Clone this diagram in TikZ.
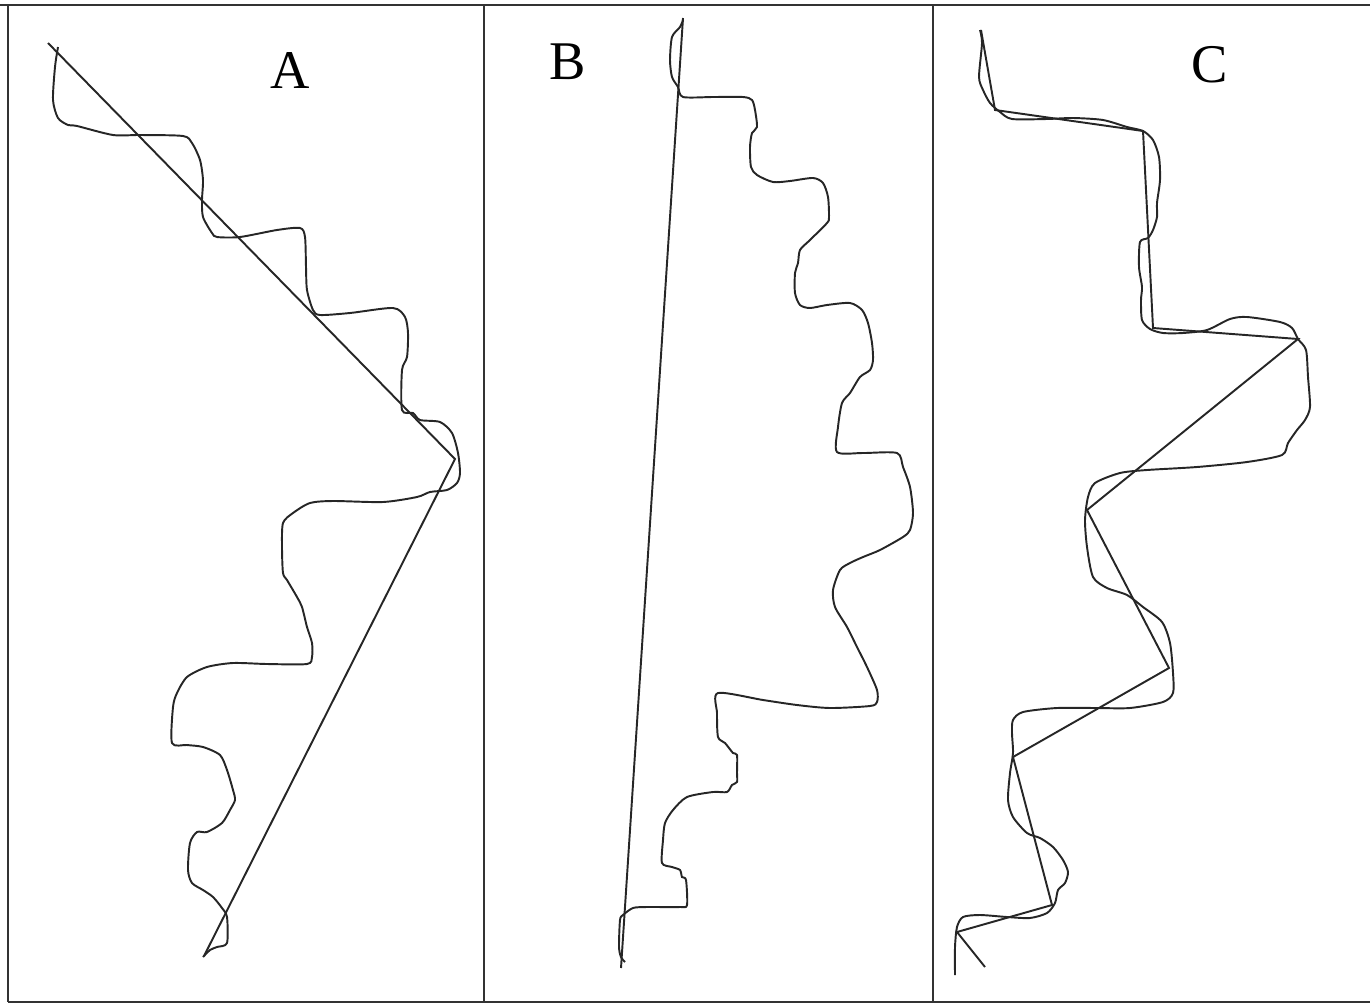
\documentclass[tikz,border=0pt]{standalone}
\usepackage{fontspec}
\setmainfont{Liberation Serif}
\begin{document}
\begin{tikzpicture}[x=0.01cm,y=-0.01cm,line width=0.55pt,
  trace/.style={draw=black!85,smooth,tension=0.45},
  fit/.style={draw=black!85},
  lab/.style={font=\fontsize{15.5}{18}\selectfont}]
\useasboundingbox (0,0) rectangle (1370,1006);
% frame
\draw[black!80] (0,5) -- (1370,5);
\draw[black!80] (8,1002) -- (1370,1002);
\foreach \x in {8,484,933}
  \draw[black!80] (\x,5) -- (\x,1002);

\node[lab] (labA) at (290,71) {A};
\node[lab] (labB) at (568,62) {B};
\node[lab] (labC) at (1210,65) {C};

% panel A
\draw[trace] plot coordinates {(58,47) (55,67) (53,100) (58,118) (68,125) (77,126)
 (113,135) (140,135) (183,136) (192,143) (200,160) (203,180) (202,200) (203,217)
 (212,233) (217,237) (240,237) (277,230) (300,228) (305,237) (306,267) (307,290)
 (313,310) (320,315) (350,313) (393,308) (405,317) (408,333) (407,357) (402,370)
 (402,410) (413,413) (420,420) (440,422) (452,433) (458,453) (460,473) (457,483)
 (447,490) (430,492) (417,497) (383,502) (333,501) (310,503) (293,513) (283,523)
 (282,547) (283,573) (287,580) (297,597) (302,607) (307,627) (312,643) (312,657)
 (307,664) (267,664) (233,663) (207,667) (187,677) (177,693) (173,707) (172,743)
 (187,745) (203,747) (220,755) (227,770) (233,790) (235,800) (230,810) (222,823)
 (207,832) (197,832) (190,843) (188,870) (192,883) (203,890) (213,897) (222,908)
 (227,917) (227,943) (217,947) (210,950) (203,957)};
\draw[fit] (48,43) -- (455,459) -- (204,956);

% panel B
\draw[trace] plot coordinates {(683,20) (680,27) (672,37) (670,60) (672,77) (678,87)
 (683,97) (713,97) (743,97) (752,100) (755,110) (757,127) (752,133) (750,147)
 (751,167) (757,175) (773,182) (790,181) (813,178) (823,183) (828,197) (829,217)
 (827,223) (810,240) (800,250) (798,263) (795,273) (795,293) (800,305) (810,308)
 (827,305) (850,303) (862,310) (868,323) (872,343) (873,360) (870,370) (860,377)
 (850,393) (842,403) (838,427) (837,452) (863,453) (897,453) (903,467) (910,487)
 (913,513) (910,530) (903,537) (880,550) (863,557) (850,563) (840,570) (833,590)
 (835,607) (847,627) (857,647) (867,667) (877,690) (877,702) (870,706) (830,708)
 (797,705) (763,700) (718,693) (717,713) (718,737) (725,743) (733,753) (737,755)
 (737,773) (737,782) (732,785) (727,792) (713,792) (687,797) (673,810) (665,823)
 (663,840) (662,863) (672,867) (680,870) (682,877) (686,880) (687,905) (680,907)
 (647,907) (633,908) (623,915) (620,920) (619,947) (621,957) (625,962)};
\draw[fit] (683,18) -- (621,968);

% panel C
\draw[trace] plot coordinates {(980,30) (982,43) (979,77) (983,90) (990,103) (1000,112)
 (1012,119) (1047,119) (1073,118) (1103,120) (1127,127) (1143,131) (1153,140)
 (1159,157) (1160,180) (1157,203) (1157,217) (1153,230) (1148,238) (1140,242)
 (1139,267) (1142,287) (1141,300) (1142,320) (1150,329) (1163,333) (1183,333)
 (1207,330) (1230,319) (1247,317) (1280,322) (1292,328) (1298,339) (1306,350)
 (1308,377) (1310,407) (1305,420) (1297,430) (1288,443) (1282,455) (1247,462)
 (1197,467) (1147,470) (1120,473) (1095,483) (1088,497) (1085,520) (1087,547)
 (1093,577) (1107,588) (1127,595) (1143,607) (1162,622) (1170,643) (1173,673)
 (1173,693) (1163,702) (1130,708) (1097,708) (1057,708) (1023,712) (1013,720)
 (1012,733) (1013,753) (1010,773) (1008,800) (1013,817) (1027,833) (1040,838)
 (1053,847) (1063,860) (1068,872) (1065,883) (1058,890) (1055,903) (1047,913)
 (1030,918) (1007,917) (980,915) (963,917) (957,927) (955,947) (955,975)};
\draw[fit] (981,30) -- (995,110) -- (1143,131) -- (1153,328) -- (1298,339)
 -- (1087,510) -- (1169,668) -- (1013,757) -- (1052,905) -- (957,932) -- (985,967);
\end{tikzpicture}
\end{document}
